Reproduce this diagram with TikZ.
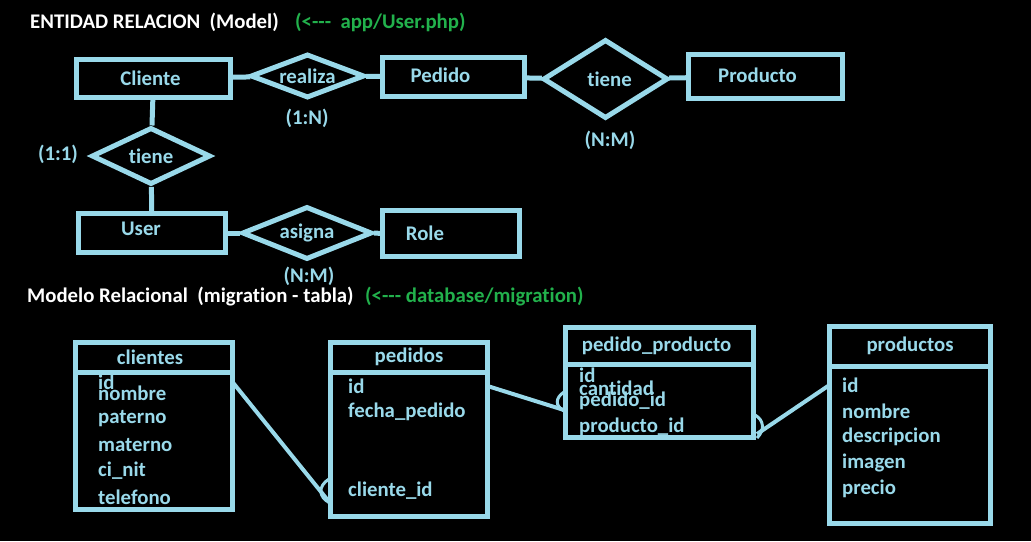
\documentclass[tikz,border=0pt]{standalone}
\usepackage{fontspec}
\setmainfont{Carlito}[Ligatures=NoCommon]
\usetikzlibrary{positioning,shapes.geometric}

\definecolor{erazul}{HTML}{99D9EA}
\definecolor{erverde}{HTML}{22B14C}

\tikzset{
  letra/.style={font=\fontsize{20.8}{23}\selectfont\bfseries},
  texto/.style={letra, text=erazul, inner sep=0pt},
  entidad/.style={draw=erazul, line width=5pt, inner sep=0pt, outer sep=0pt},
  relacion/.style={diamond, draw=erazul, line width=5pt, inner sep=0pt, aspect=2.5, text=erazul, letra},
  tabla/.style={draw=erazul, line width=5pt, inner sep=0pt, outer sep=0pt, text=erazul, letra},
  campo/.style={texto, anchor=west},
  linea/.style={erazul, line width=5pt},
  pata/.style={erazul, line width=3pt},
  titulo/.style={letra, text=white, anchor=west, inner sep=0pt},
  ruta/.style={letra, text=erverde, anchor=west, inner sep=0pt}
}

\begin{document}
\begin{tikzpicture}[x=1pt,y=-1pt]
  \useasboundingbox (0,0) rectangle (1031,541);
  \fill[black] (0,0) rectangle (1031,541);

  % entidad relacion
  \node[titulo] (t-er) at (30,22) {ENTIDAD RELACION~~(Model)};
  \node[ruta] (t-er-ruta) at (295,22) {(<{-}{-}{-}~~app/User.php)};

  \node[entidad, minimum width=154, minimum height=38, label={[texto, xshift=-3pt]center:Cliente}] (cliente) at (153.5,78.5) {};
  \node[entidad, minimum width=142, minimum height=39, label={[texto, xshift=-13pt, yshift=2pt]center:Pedido}] (pedido) at (453.5,77) {};
  \node[entidad, minimum width=154, minimum height=44, label={[texto, xshift=-8pt, yshift=1pt]center:Producto}] (producto) at (765.5,76.5) {};
  \node[entidad, minimum width=147, minimum height=39, label={[texto, xshift=-11pt, yshift=4pt]center:User}] (user) at (152,233) {};
  \node[entidad, minimum width=137, minimum height=46, label={[texto, xshift=-26pt]center:Role}] (role) at (451,233.5) {};

  \node[relacion, minimum width=114, minimum height=44] (realiza) at (307.5,76) {realiza};
  \node[relacion, minimum width=125, minimum height=79] (tiene) at (605.5,79) {\hspace{8pt}tiene};
  \node[relacion, minimum width=119, minimum height=57] (tiene-u) at (151,156) {tiene};
  \node[relacion, minimum width=130, minimum height=53] (asigna) at (307,233) {asigna};

  \draw[linea] (cliente) -- (realiza);
  \draw[linea] (realiza) -- (pedido);
  \draw[linea] (pedido) -- (tiene);
  \draw[linea] (tiene) -- (producto);
  \draw[linea] (cliente) -- (tiene-u);
  \draw[linea] (tiene-u) -- (user);
  \draw[linea] (user) -- (asigna);
  \draw[linea] (asigna) -- (role);

  \node[texto] (card-realiza) at (307,118) {(1:N)};
  \node[texto] (card-tiene) at (610,140) {(N:M)};
  \node[texto] (card-tiene-u) at (58,154) {(1:1)};
  \node[texto] (card-asigna) at (309,276) {(N:M)};

  % modelo relacional
  \node[titulo] (t-mr) at (27,297) {Modelo Relacional~~(migration - tabla)};
  \node[ruta] (t-mr-ruta) at (365,297) {(<{-}{-}{-} database/migration)};

  \node[tabla, minimum width=157, minimum height=29.5] (clientes-h) at (154,357.25) {\hspace{-8pt}clientes};
  \node[tabla, minimum width=157, minimum height=137.5, below=0pt of clientes-h] (clientes) {};
  \node[tabla, minimum width=157, minimum height=29.5] (pedidos-h) at (409,357.25) {pedidos};
  \node[tabla, minimum width=157, minimum height=144.5, below=0pt of pedidos-h] (pedidos) {};
  \node[tabla, minimum width=188, minimum height=36.5] (pp-h) at (659.5,345.75) {\hspace{-6pt}pedido\_producto};
  \node[tabla, minimum width=188, minimum height=73.5, below=0pt of pp-h] (pp) {};
  \node[tabla, minimum width=161, minimum height=39.5] (productos-h) at (910,346.25) {productos};
  \node[tabla, minimum width=161, minimum height=157.5, below=0pt of productos-h] (productos) {};

  \node[campo] (cl-id) at (98,382) {id};
  \node[campo] (cl-nombre) at (98,393) {nombre};
  \node[campo] (cl-paterno) at (98,419) {paterno};
  \node[campo] (cl-materno) at (98,445) {materno};
  \node[campo] (cl-ci) at (98,471) {ci\_nit};
  \node[campo] (cl-tel) at (98,497) {telefono};

  \node[campo] (pe-id) at (348,386) {id};
  \node[campo] (pe-fecha) at (348,412) {fecha\_pedido};
  \node[campo] (pe-cid) at (348,491) {cliente\_id};

  \node[campo] (pp-id) at (579,375) {id};
  \node[campo] (pp-cant) at (579,388) {cantidad};
  \node[campo] (pp-pid) at (579,401) {pedido\_id};
  \node[campo] (pp-prid) at (579,427) {producto\_id};

  \node[campo] (po-id) at (842,385) {id};
  \node[campo] (po-nombre) at (842,411) {nombre};
  \node[campo] (po-desc) at (842,437) {descripcion};
  \node[campo] (po-img) at (842,463) {imagen};
  \node[campo] (po-precio) at (842,489) {precio};

  % conectores con pata de gallo
  \coordinate (pata1) at (330,503);
  \coordinate (pata2) at (564,410);
  \coordinate (pata3) at (757,434);
  \draw[linea, line width=4pt] (clientes.east |- cl-id) -- (pata1);
  \draw[pata] (329,479) .. controls (318,486) and (318,497) .. (330,503);
  \draw[linea, line width=4pt] (pedidos.east |- pe-id) -- (pata2);
  \draw[pata] (564,392) .. controls (555,398) and (555,406) .. (564,411);
  \draw[linea, line width=4pt] (productos.west |- po-id) -- (pata3);
  \draw[pata] (755,415) .. controls (764,420) and (765,430) .. (757,438);
\end{tikzpicture}
\end{document}
